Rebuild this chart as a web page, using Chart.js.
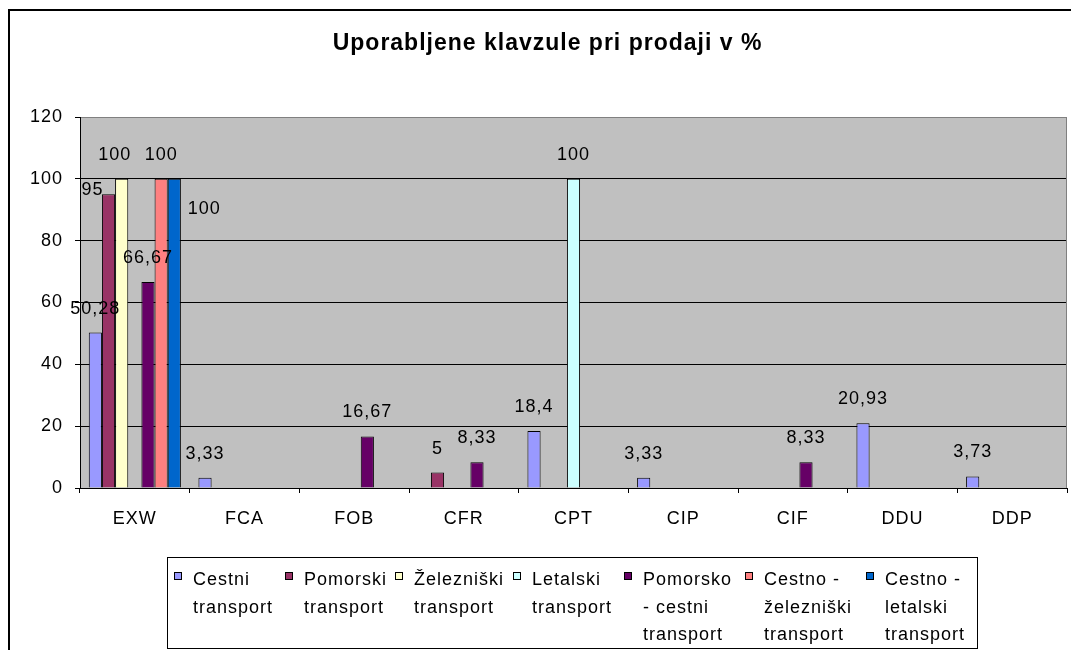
<!DOCTYPE html>
<html>
<head>
<meta charset="utf-8">
<title>Uporabljene klavzule pri prodaji v %</title>
<script src="https://cdn.jsdelivr.net/npm/chart.js@4.4.0/dist/chart.umd.min.js"></script>
<style>
    html, body { margin: 0; padding: 0; background: #fff; }
    #wrap { width: 1071px; height: 650px; }
</style>
</head>
<body>
<div id="wrap"><canvas id="clauseChart" width="1071" height="650"></canvas></div>
<script>
// Categories and series
const chartTitle = 'Uporabljene klavzule pri prodaji v %';
const categories = ['EXW', 'FCA', 'FOB', 'CFR', 'CPT', 'CIP', 'CIF', 'DDU', 'DDP'];
const yTicks = [0, 20, 40, 60, 80, 100, 120];

// legend text, split the way the legend wraps it
const seriesLegendLines = [
    ['Cestni', 'transport'],
    ['Pomorski', 'transport'],
    ['Železniški', 'transport'],
    ['Letalski', 'transport'],
    ['Pomorsko', '- cestni', 'transport'],
    ['Cestno -', 'železniški', 'transport'],
    ['Cestno -', 'letalski', 'transport']
];
const seriesColors = ['#9999FF', '#993366', '#FFFFCC', '#CCFFFF', '#660066', '#FF8080', '#0066CC'];

const cestni           = [50.28, 3.33, null, null, 18.4, 3.33, null, 20.93, 3.73];
const pomorski         = [95, null, null, 5, null, null, null, null, null];
const zelezniski       = [100, null, null, null, null, null, null, null, null];
const letalski         = [null, null, null, null, 100, null, null, null, null];
const pomorskoCestni   = [66.67, null, 16.67, 8.33, null, null, 8.33, null, null];
const cestnoZelezniski = [100, null, null, null, null, null, null, null, null];
const cestnoLetalski   = [100, null, null, null, null, null, null, null, null];

const seriesValues = [cestni, pomorski, zelezniski, letalski, pomorskoCestni, cestnoZelezniski, cestnoLetalski];

// a few labels sit off their bars in the original, nudge them the same way
const labelNudge = { '1-0': [-16, 20], '2-0': [-7, 0], '6-0': [30, 54] };

// where each legend column's text starts
const legendColumnX = [193, 304, 414, 532, 643, 764, 885];

const FONT = '"Liberation Sans", Arial, sans-serif';

function fmt(v) {
    return String(v).replace('.', ',');
}

const excelLook = {
    id: 'excelLook',
    beforeDraw(chart) {
        const ctx = chart.ctx;
        const a = chart.chartArea;
        ctx.letterSpacing = '1px';
        ctx.save();
        ctx.fillStyle = '#fff';
        ctx.fillRect(0, 0, chart.width, chart.height);

        // outer chart frame (runs off the right and bottom edge)
        ctx.strokeStyle = '#000';
        ctx.lineWidth = 2;
        ctx.strokeRect(9, 10, chart.width + 20, chart.height + 20);

        // plot area
        ctx.fillStyle = '#C0C0C0';
        ctx.fillRect(a.left, a.top, a.right - a.left, a.bottom - a.top);

        // title
        ctx.font = 'bold 23px ' + FONT;
        ctx.fillStyle = '#000';
        ctx.textBaseline = 'alphabetic';
        ctx.textAlign = 'left';
        const w = ctx.measureText(chartTitle).width;
        ctx.fillText(chartTitle, 547.5 - w / 2, 50);
        ctx.restore();
    },
    beforeDatasetsDraw(chart) {
        const ctx = chart.ctx;
        const a = chart.chartArea;
        ctx.save();
        ctx.strokeStyle = '#808080';
        ctx.lineWidth = 1;
        ctx.beginPath();
        ctx.moveTo(Math.round(a.right) - 0.5, a.top);
        ctx.lineTo(Math.round(a.right) - 0.5, a.bottom);
        ctx.stroke();
        ctx.restore();
    },
    afterDatasetsDraw(chart) {
        const ctx = chart.ctx;
        ctx.save();
        ctx.font = '18px ' + FONT;
        ctx.fillStyle = '#000';
        ctx.textAlign = 'center';
        ctx.textBaseline = 'middle';
        chart.data.datasets.forEach((ds, i) => {
            const meta = chart.getDatasetMeta(i);
            meta.data.forEach((bar, j) => {
                const v = ds.data[j];
                if (v === null || v === undefined) return;
                const n = labelNudge[i + '-' + j] || [0, 0];
                ctx.fillText(fmt(v), bar.x + n[0], bar.y - 24 + n[1]);
            });
        });
        ctx.restore();
    },
    afterDraw(chart) {
        const ctx = chart.ctx;
        ctx.save();
        ctx.lineWidth = 1;
        ctx.strokeStyle = '#000';
        ctx.fillStyle = '#fff';
        ctx.fillRect(168, 558, 809, 90);
        ctx.strokeRect(167.5, 557.5, 810, 91);

        ctx.font = '18px ' + FONT;
        ctx.textAlign = 'left';
        ctx.textBaseline = 'alphabetic';
        chart.data.datasets.forEach((ds, i) => {
            const tx = legendColumnX[i];
            const lines = seriesLegendLines[i];
            ctx.fillStyle = ds.backgroundColor;
            ctx.fillRect(tx - 19, 572, 8, 8);
            ctx.strokeRect(tx - 18.5, 572.5, 7, 7);
            ctx.fillStyle = '#000';
            lines.forEach((line, k) => {
                ctx.fillText(line, tx, 585 + k * 27.5);
            });
        });
        ctx.restore();
    }
};

document.addEventListener('DOMContentLoaded', () => {
    const ctx = document.getElementById('clauseChart').getContext('2d');

    const datasets = seriesValues.map((values, i) => ({
        label: seriesLegendLines[i].join(' '),
        data: values,
        backgroundColor: seriesColors[i],
        borderColor: '#000',
        borderWidth: 1,
        categoryPercentage: 0.84,
        barPercentage: 1.0
    }));

    new Chart(ctx, {
        type: 'bar',
        data: {
            labels: categories,
            datasets: datasets
        },
        options: {
            responsive: false,
            devicePixelRatio: 1,
            animation: false,
            layout: {
                padding: { top: 117, right: 4, bottom: 112, left: 0 }
            },
            plugins: {
                legend: { display: false },
                title: { display: false },
                tooltip: { enabled: false }
            },
            scales: {
                x: {
                    grid: {
                        display: true,
                        offset: true,
                        drawOnChartArea: false,
                        drawTicks: true,
                        tickLength: 5,
                        color: '#000'
                    },
                    border: { color: '#000', width: 1 },
                    ticks: {
                        color: '#000',
                        padding: 15,
                        font: { family: FONT, size: 18 }
                    },
                    afterFit: (scale) => { scale.height = 50; }
                },
                y: {
                    min: 0,
                    max: 120,
                    afterBuildTicks: (scale) => {
                        scale.ticks = yTicks.map(v => ({ value: v }));
                    },
                    grid: {
                        color: (c) => (c.tick && c.tick.value === 120 ? '#808080' : '#000'),
                        tickColor: '#000',
                        tickLength: 5
                    },
                    border: { color: '#000', width: 1 },
                    ticks: {
                        color: '#000',
                        padding: 12,
                        font: { family: FONT, size: 18 }
                    },
                    afterFit: (scale) => { scale.width = 80; }
                }
            }
        },
        plugins: [excelLook]
    });
});
</script>
</body>
</html>
